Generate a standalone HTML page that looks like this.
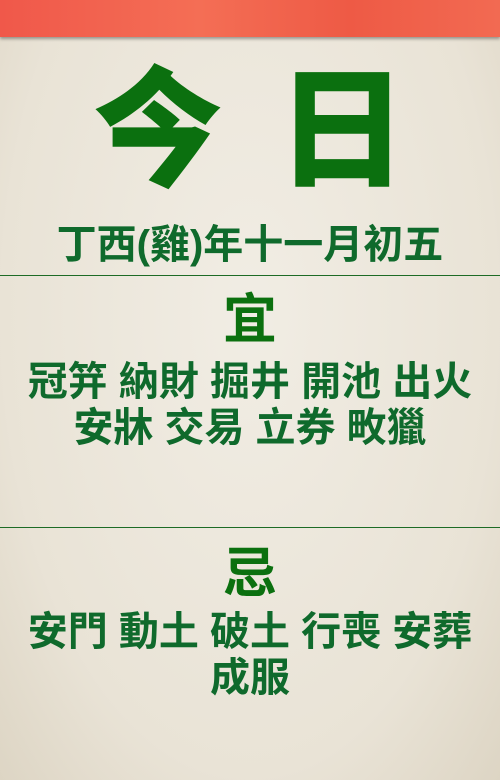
<!DOCTYPE html>
<html><head><meta charset="utf-8"><style>
body{margin:0;width:500px;height:780px;overflow:hidden;background:#ece7dc;font-family:"Liberation Sans","Noto Sans CJK TC",sans-serif;font-weight:bold}
#bg{position:absolute;left:0;top:0;width:500px;height:780px;background:radial-gradient(ellipse at 50% 40%,#f1ede4 0%,#e9e3d6 70%,#ddd5c4 100%)}
#band{position:absolute;left:0;top:0;width:500px;height:37px;background:linear-gradient(90deg,#f0584a,#f46e55 40%,#ee5a45 70%,#f26a52);box-shadow:0 2px 3px rgba(0,0,0,.35)}
.t{position:absolute;left:0;width:500px;text-align:center;white-space:nowrap;color:#0f6a2c}
.rule{position:absolute;left:0;width:500px;height:1px;background:#1d6b25}
</style></head><body>
<div id="bg"></div>
<div id="band"></div>
<div class="t" style="top:38px;font-size:130px;line-height:165px;color:#0b700f;letter-spacing:54px;text-indent:54px;font-family:'Noto Sans CJK SC',sans-serif;font-weight:900">今日</div>
<div class="t" style="top:222px;font-size:40px;line-height:46px">丁西(雞)年十一月初五</div>
<div class="rule" style="top:275px"></div>
<div class="t" style="top:289px;font-size:54px;line-height:62px;color:#0b700f">宜</div>
<div class="t" style="top:360px;font-size:40px;line-height:44px">冠笄 納財 掘井 開池 出火</div>
<div class="t" style="top:406px;font-size:40px;line-height:44px">安牀 交易 立券 畋獵</div>
<div class="rule" style="top:527px"></div>
<div class="t" style="top:543px;font-size:54px;line-height:62px;color:#0b700f">忌</div>
<div class="t" style="top:610px;font-size:40px;line-height:44px">安門 動土 破土 行喪 安葬</div>
<div class="t" style="top:656px;font-size:40px;line-height:44px">成服</div>
</body></html>
